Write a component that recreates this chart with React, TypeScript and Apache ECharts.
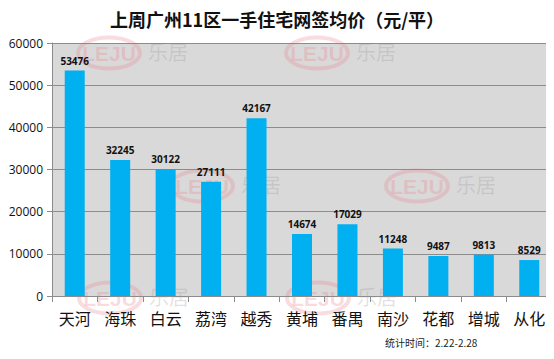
import React, { useEffect, useRef } from "react";
import * as echarts from "echarts";

const categories = ["天河", "海珠", "白云", "荔湾", "越秀", "黄埔", "番禺", "南沙", "花都", "增城", "从化"];
const prices = [53476, 32245, 30122, 27111, 42167, 14674, 17029, 11248, 9487, 9813, 8529];
const titleText = "上周广州11区一手住宅网签均价（元/平）";
const noteText = "统计时间：2.22-2.28";
const watermarkSpots = [
  [109, 53],
  [317, 53],
  [202, 186],
  [417, 186],
  [110, 298],
  [318, 298],
];

function watermark(cx: number, cy: number) {
  return {
    type: "group",
    x: cx,
    y: cy,
    z: 100,
    silent: true,
    children: [
      {
        type: "ellipse",
        shape: { cx: 0, cy: 0, rx: 31, ry: 15.5 },
        style: { fill: "none", stroke: "rgba(235,130,140,0.28)", lineWidth: 4 },
      },
      {
        type: "text",
        x: 0,
        y: 0,
        style: {
          text: "LEJU",
          fill: "rgba(235,130,140,0.3)",
          font: "bold 21px 'Liberation Sans', Arial, sans-serif",
          align: "center",
          verticalAlign: "middle",
        },
      },
      {
        type: "text",
        x: 39,
        y: -2,
        style: {
          text: "乐居",
          fill: "rgba(150,150,150,0.28)",
          font: "20px 'Noto Sans CJK SC', sans-serif",
          align: "left",
          verticalAlign: "middle",
        },
      },
    ],
  };
}

export default function App() {
  const ref = useRef<HTMLDivElement>(null);
  useEffect(() => {
    if (!ref.current) return;
    const chart = echarts.init(ref.current, null, { renderer: "svg" });
    chart.setOption({
      animation: false,
      backgroundColor: "#ffffff",
      title: {
        text: titleText,
        left: "center",
        top: 5,
        textStyle: {
          fontSize: 18,
          fontWeight: "bold",
          color: "#111",
          fontFamily: "'Noto Sans CJK SC', sans-serif",
        },
      },
      grid: {
        left: 52,
        right: 2,
        top: 43,
        bottom: 63,
        show: true,
        backgroundColor: "#d9d9d9",
        borderWidth: 0,
      },
      xAxis: {
        type: "category",
        data: categories,
        z: 110,
        axisLine: { show: true, lineStyle: { color: "#8c8c8c", width: 1 } },
        axisTick: { show: true, length: 6, alignWithLabel: false, lineStyle: { color: "#8c8c8c" } },
        axisLabel: {
          fontSize: 16,
          color: "#111",
          margin: 14,
          fontFamily: "'Noto Sans CJK SC', sans-serif",
        },
      },
      yAxis: {
        type: "value",
        min: 0,
        max: 60000,
        interval: 10000,
        axisLine: { show: true, lineStyle: { color: "#8c8c8c", width: 1 } },
        axisTick: { show: true, length: 5, lineStyle: { color: "#8c8c8c" } },
        axisLabel: {
          fontSize: 12,
          color: "#111",
          margin: 9,
          formatter: (v: number) => String(v),
          fontFamily: "'Open Sans', 'DejaVu Sans', sans-serif",
        },
        splitLine: { show: true, lineStyle: { color: "#8c8c8c", width: 1 } },
      },
      series: [
        {
          type: "bar",
          data: prices,
          barWidth: 20,
          itemStyle: { color: "#00b0f0" },
          label: {
            show: true,
            position: "top",
            distance: 5,
            fontSize: 10,
            fontWeight: "bold",
            color: "#111",
            fontFamily: "'Open Sans', 'DejaVu Sans', sans-serif",
          },
        },
      ],
      graphic: [
        ...watermarkSpots.map(([x, y]) => watermark(x, y)),
        {
          type: "text",
          left: 385,
          top: 337,
          z: 101,
          style: {
            text: noteText,
            fill: "#222",
            font: "10px 'Noto Sans CJK SC', sans-serif",
          },
        },
      ],
    });
    return () => chart.dispose();
  }, []);
  return <div ref={ref} style={{ width: 554, height: 359, margin: -8 }} />;
}
